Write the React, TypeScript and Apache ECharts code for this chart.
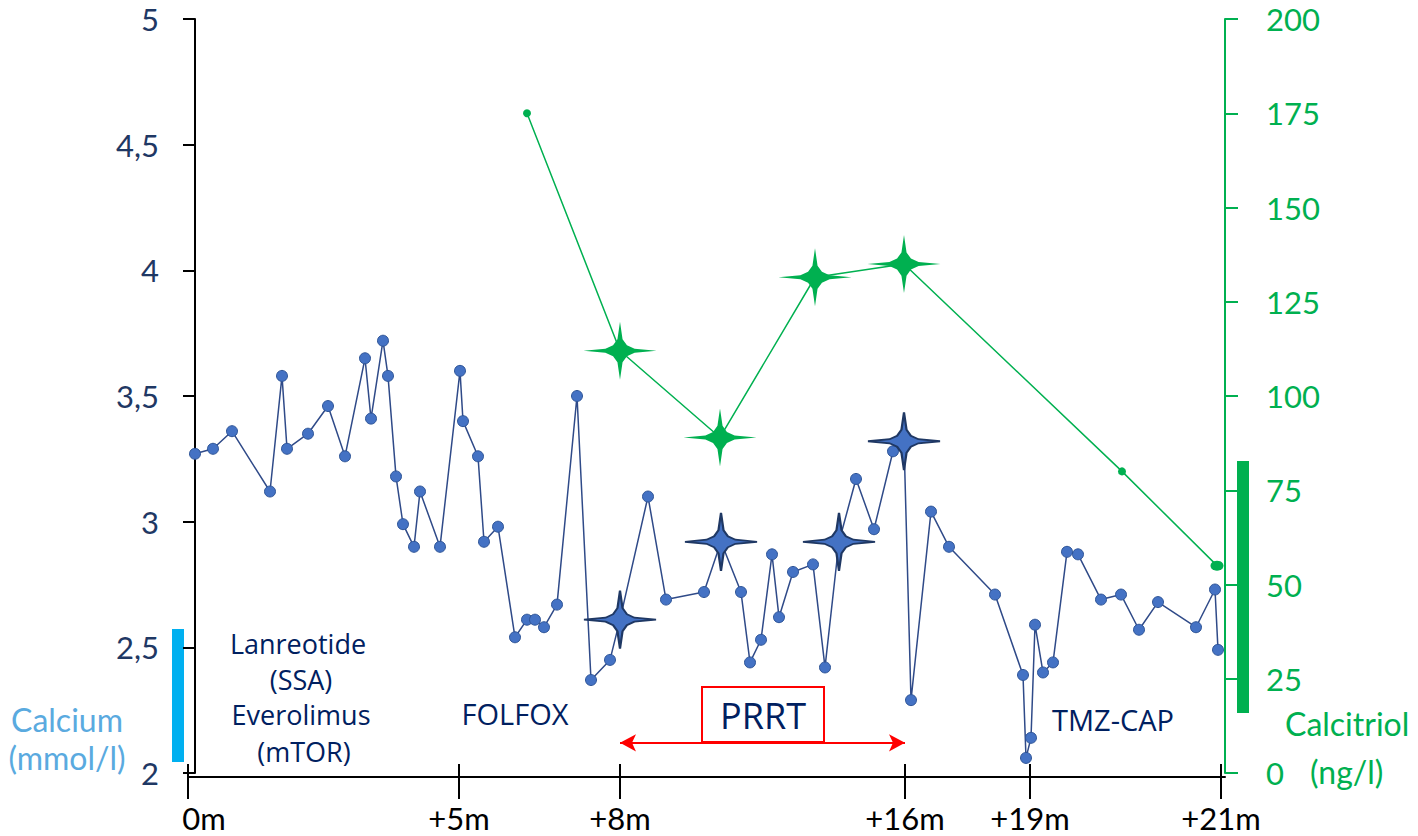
import React, { useEffect, useRef } from 'react';
import * as echarts from 'echarts';

// Timeline position along the x axis (0 = start of follow-up), with month tick labels
const xTickPositions = [0, 271, 432, 717, 842, 1033];
const xTickLabels = ['0m', '+5m', '+8m', '+16m', '+19m', '+21m'];

// Calcium (mmol/l)
const calciumX = [7, 25, 44, 82, 94, 99, 120, 140, 157, 177, 183, 195, 200, 208, 215, 226, 232, 252, 272, 275,
  290, 296, 310, 327, 339, 347, 356, 369, 389, 403, 422, 432, 460, 478, 516, 533, 553, 562, 573, 584,
  591, 605, 625, 637, 651, 668, 686, 705, 716, 723, 743, 761, 807, 835, 838, 843, 847, 855, 865, 879,
  890, 913, 933, 951, 970, 1008, 1027, 1030];
const calciumY = [3.27, 3.29, 3.36, 3.12, 3.58, 3.29, 3.35, 3.46, 3.26, 3.65, 3.41, 3.72, 3.58, 3.18, 2.99, 2.90, 3.12, 2.90, 3.60, 3.40,
  3.26, 2.92, 2.98, 2.54, 2.61, 2.61, 2.58, 2.67, 3.50, 2.37, 2.45, 2.61, 3.10, 2.69, 2.72, 2.92, 2.72, 2.44, 2.53, 2.87,
  2.62, 2.80, 2.83, 2.42, 2.92, 3.17, 2.97, 3.28, 3.32, 2.29, 3.04, 2.90, 2.71, 2.39, 2.06, 2.14, 2.59, 2.40, 2.44, 2.88,
  2.87, 2.69, 2.71, 2.57, 2.68, 2.58, 2.73, 2.49];
const calciumStarX = [432, 533, 651, 716];

// Calcitriol (ng/l)
const calcitriolX = [339, 432, 532, 627, 716, 934, 1029];
const calcitriolY = [175, 112, 89, 131.5, 135, 80, 55];
const calcitriolStarX = [432, 532, 627, 716];

// PRRT period
const prrtStart = 432;
const prrtEnd = 717;
const prrtArrowLevel = 2.12;

const STAR = 'path://M0,-1 L0.07,-0.4 L0.19,-0.19 L0.4,-0.07 L1,0 L0.4,0.07 L0.19,0.19 L0.07,0.4 L0,1 L-0.07,0.4 L-0.19,0.19 L-0.4,0.07 L-1,0 L-0.4,-0.07 L-0.19,-0.19 L-0.07,-0.4 Z';
const NAVY = '#1F3864';
const GREEN = '#00B050';
const FONT = 'Lato';
const ANNOT_FONT = 'Open Sans';

export default function App() {
  const ref = useRef<HTMLDivElement>(null);
  useEffect(() => {
    if (!ref.current) return;
    const chart = echarts.init(ref.current, undefined, { renderer: 'svg' });

    const calciumData = calciumX.map((x, i) => {
      const v = [x, calciumY[i]];
      if (calciumStarX.includes(x)) {
        return {
          value: v,
          symbol: STAR,
          symbolSize: [72, 58],
          itemStyle: { color: '#4472C4', borderColor: NAVY, borderWidth: 2 },
        };
      }
      return { value: v };
    });

    const calcitriolData = calcitriolX.map((x, i) => {
      const v = [x, calcitriolY[i]];
      if (calcitriolStarX.includes(x)) {
        return { value: v, symbol: STAR, symbolSize: [73, 58] };
      }
      if (i === calcitriolX.length - 1) return { value: v, symbolSize: [13, 10] };
      return { value: v };
    });

    const labelFor = (v: number) => {
      const idx = xTickPositions.indexOf(Math.round(v));
      if (idx < 0) return '';
      return idx === 0 ? '{first|' + xTickLabels[idx] + '}' : xTickLabels[idx];
    };

    const option: any = {
      animation: false,
      textStyle: { fontFamily: FONT },
      grid: { left: 188, right: 193, top: 19, bottom: 63, containLabel: false },
      xAxis: [
        {
          type: 'value',
          min: 0,
          max: 1037,
          position: 'bottom',
          offset: 4,
          axisLine: { show: true, onZero: false, lineStyle: { color: '#000', width: 2 } },
          axisTick: { show: true, customValues: xTickPositions, length: 22, lineStyle: { color: '#000', width: 2 } },
          axisLabel: {
            show: true,
            customValues: xTickPositions,
            formatter: labelFor,
            fontSize: 31,
            lineHeight: 30,
            color: '#000',
            fontFamily: FONT,
            margin: 26,
            rich: { first: { fontSize: 31, lineHeight: 30, color: '#000', fontFamily: FONT, padding: [0, 0, 0, 32] } },
          },
          splitLine: { show: false },
        },
        {
          type: 'value',
          min: 0,
          max: 1037,
          position: 'bottom',
          offset: 4,
          axisLine: { show: false, onZero: false },
          axisTick: { show: true, inside: true, customValues: xTickPositions, length: 13, lineStyle: { color: '#000', width: 2 } },
          axisLabel: { show: false },
          splitLine: { show: false },
        },
      ],
      yAxis: [
        {
          type: 'value',
          min: 2,
          max: 5,
          interval: 0.5,
          position: 'left',
          offset: -7,
          axisLine: { show: true, onZero: false, lineStyle: { color: '#000', width: 2 } },
          axisTick: { show: true, length: 12, lineStyle: { color: '#000', width: 2 } },
          axisLabel: {
            fontSize: 31,
            lineHeight: 28,
            color: NAVY,
            fontFamily: FONT,
            margin: 36,
            formatter: (v: number) => String(v).replace('.', ','),
          },
          splitLine: { show: false },
        },
        {
          type: 'value',
          min: 0,
          max: 200,
          interval: 25,
          position: 'right',
          axisLine: { show: true, onZero: false, lineStyle: { color: GREEN, width: 2 } },
          axisTick: { show: true, length: 13, lineStyle: { color: GREEN, width: 2 } },
          axisLabel: { fontSize: 31, lineHeight: 28, color: GREEN, fontFamily: FONT, margin: 41 },
          splitLine: { show: false },
        },
      ],
      series: [
        {
          name: 'Calcitriol',
          type: 'line',
          xAxisIndex: 0,
          yAxisIndex: 1,
          data: calcitriolData,
          showAllSymbol: true,
          symbol: 'circle',
          symbolSize: 8,
          lineStyle: { color: GREEN, width: 1.5 },
          itemStyle: { color: GREEN },
          z: 2,
        },
        {
          name: 'Calcium',
          type: 'line',
          xAxisIndex: 0,
          yAxisIndex: 0,
          data: calciumData,
          showAllSymbol: true,
          symbol: 'circle',
          symbolSize: 11,
          lineStyle: { color: '#2F4A88', width: 1.5 },
          itemStyle: { color: '#4472C4', borderColor: '#2F5597', borderWidth: 1 },
          z: 3,
          markLine: {
            silent: true,
            symbol: ['arrow', 'arrow'],
            symbolSize: [13, 16],
            label: { show: false },
            lineStyle: { color: '#FF0000', width: 2, type: 'solid' },
            data: [[{ coord: [prrtStart, prrtArrowLevel] }, { coord: [prrtEnd, prrtArrowLevel] }]],
          },
        },
      ],
      graphic: [
        { type: 'rect', shape: { x: 172, y: 629, width: 12, height: 133 }, style: { fill: '#00B0F0' } },
        { type: 'rect', shape: { x: 1237, y: 461, width: 12, height: 252 }, style: { fill: GREEN } },
        { type: 'text', x: 67, y: 719, style: { text: 'Calcium', fill: '#5AAADF', font: `32px ${FONT}`, textAlign: 'center', textVerticalAlign: 'middle' } },
        { type: 'text', x: 67, y: 757, style: { text: '(mmol/l)', fill: '#5AAADF', font: `32px ${FONT}`, textAlign: 'center', textVerticalAlign: 'middle' } },
        { type: 'text', x: 1285, y: 723, style: { text: 'Calcitriol', fill: GREEN, font: `32px ${FONT}`, textAlign: 'left', textVerticalAlign: 'middle' } },
        { type: 'text', x: 1310, y: 771, style: { text: '(ng/l)', fill: GREEN, font: `32px ${FONT}`, textAlign: 'left', textVerticalAlign: 'middle' } },
        { type: 'text', x: 298, y: 643, style: { text: 'Lanreotide', fill: '#002060', font: `27px '${ANNOT_FONT}'`, textAlign: 'center', textVerticalAlign: 'middle' } },
        { type: 'text', x: 301, y: 679, style: { text: '(SSA)', fill: '#002060', font: `27px '${ANNOT_FONT}'`, textAlign: 'center', textVerticalAlign: 'middle' } },
        { type: 'text', x: 301, y: 714, style: { text: 'Everolimus', fill: '#002060', font: `27px '${ANNOT_FONT}'`, textAlign: 'center', textVerticalAlign: 'middle' } },
        { type: 'text', x: 304, y: 751, style: { text: '(mTOR)', fill: '#002060', font: `27px '${ANNOT_FONT}'`, textAlign: 'center', textVerticalAlign: 'middle' } },
        { type: 'text', x: 515, y: 713, style: { text: 'FOLFOX', fill: '#002060', font: `29px '${ANNOT_FONT}'`, textAlign: 'center', textVerticalAlign: 'middle' } },
        { type: 'text', x: 1113, y: 719, style: { text: 'TMZ-CAP', fill: '#002060', font: `29px '${ANNOT_FONT}'`, textAlign: 'center', textVerticalAlign: 'middle' } },
        { type: 'rect', z: 10, shape: { x: 702, y: 687, width: 122, height: 55 }, style: { fill: '#fff', stroke: '#FF0000', lineWidth: 2 } },
        { type: 'text', z: 11, x: 763, y: 715, style: { text: 'PRRT', fill: '#002060', font: `36px '${ANNOT_FONT}'`, textAlign: 'center', textVerticalAlign: 'middle' } },
      ],
    };
    chart.setOption(option);
    return () => chart.dispose();
  }, []);
  return <div ref={ref} style={{ position: 'absolute', left: 0, top: 0, width: 1418, height: 836 }} />;
}
